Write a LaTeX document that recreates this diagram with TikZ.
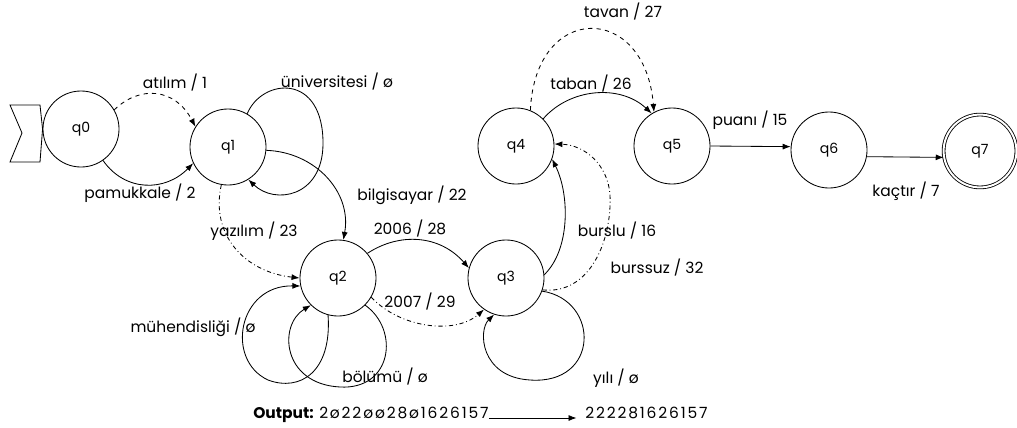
\documentclass[tikz,border=0pt]{standalone}
\usepackage{fontspec}
\setmainfont{Poppins}
\newfontfamily\outfont[LetterSpace=12]{Poppins}
\usetikzlibrary{arrows.meta}

\tikzset{
  qstate/.style={circle, draw=black, line width=0.6pt, minimum size=1.9cm, inner sep=0pt},
  qfinal/.style={qstate, double, double distance=1.4pt, minimum size=1.82cm},
  tr/.style={black, line width=0.6pt, -{Latex[length=2mm,width=1.5mm]}},
  lbl/.style={inner sep=0pt, font=\fontsize{11}{13}\selectfont}
}

\begin{document}
\begin{tikzpicture}[x=0.025cm, y=0.025cm]
    \useasboundingbox (0,0) rectangle (1017,-427);
    \tikzstyle{every node}+=[inner sep=0pt]
    \node [qstate] (q0) at (81,-129) {q0};
    \node [qstate] (q1) at (228,-147) {q1};
    \node [qstate] (q2) at (338,-278) {q2};
    \node [qstate] (q3) at (506,-278) {q3};
    \node [qstate] (q4) at (516,-146) {q4};
    \node [qstate] (q5) at (672,-146) {q5};
    \node [qstate] (q6) at (829,-150) {q6};
    \node [qfinal] (q7) at (980,-151) {q7};
    \draw [black, line width=0.6pt] (10,-105) -- (40,-105) -- (q0.west) -- (40,-162) -- (10,-162) -- (22,-133) -- cycle;
    \draw [tr, dashed] (q0.30) .. controls (140,-85) and (175,-88) .. (q1.148);
    \draw (175,-83) node [lbl] {atılım / 1};
    \draw [tr] (q0.-55) .. controls (125,-192) and (165,-192) .. (q1.205);
    \draw (140,-193) node [lbl] {pamukkale / 2};
    \draw [tr] (q1.60) .. controls (262,-78) and (324,-72) .. (323,-145) .. controls (322,-197) and (275,-205) .. (q1.-58);
    \draw (337,-82) node [lbl] {üniversitesi / ø};
    \draw [tr] (q1.-5) .. controls (315,-152) and (352,-192) .. (q2.82);
    \draw (412,-195) node [lbl] {bilgisayar / 22};
    \draw [tr, dash dot] (q1.-100) .. controls (210,-235) and (245,-272) .. (q2.180);
    \draw (254,-231) node [lbl] {yazılım / 23};
    \draw [tr] (q2.-105) .. controls (332,-372) and (300,-392) .. (268,-380) .. controls (225,-360) and (238,-285) .. (q2.192);
    \draw (193,-327) node [lbl] {mühendisliği / ø};
    \draw [tr] (q2.-45) .. controls (400,-330) and (392,-390) .. (340,-387) .. controls (282,-384) and (278,-325) .. (q2.225);
    \draw (385,-377) node [lbl] {bölümü / ø};
    \draw [tr] (q2.40) .. controls (400,-232) and (440,-235) .. (q3.165);
    \draw (410,-229) node [lbl] {2006 / 28};
    \draw [tr, dash dot] (q2.-30) .. controls (400,-328) and (455,-335) .. (q3.235);
    \draw (420,-302) node [lbl] {2007 / 29};
    \draw [tr] (q3.-20) .. controls (600,-300) and (600,-385) .. (530,-380) .. controls (480,-377) and (478,-330) .. (q3.252);
    \draw (616,-378) node [lbl] {yılı / ø};
    \draw [tr] (q3.5) .. controls (570,-250) and (570,-195) .. (q4.-20);
    \draw (617,-231) node [lbl] {burslu / 16};
    \draw [tr, dash dot] (q3.-18) .. controls (590,-295) and (612,-240) .. (610,-195) .. controls (608,-165) and (585,-145) .. (q4.3);
    \draw (657,-268) node [lbl] {burssuz / 32};
    \draw [tr] (q4.45) .. controls (570,-88) and (620,-84) .. (q5.122);
    \draw (591,-84) node [lbl] {taban / 26};
    \draw [tr, dashed] (q4.68) .. controls (535,-2) and (645,-2) .. (q5.118);
    \draw (623,-12) node [lbl] {tavan / 27};
    \draw [tr] (q5.east) -- (q6.175);
    \draw (750,-120) node [lbl] {puanı / 15};
    \draw [tr] (q6.-10) -- (q7.190);
    \draw (906,-191) node [lbl] {kaçtır / 7};
    \node [lbl, anchor=base west] (out1) at (253,-418) {\textbf{Output:} {\outfont 2ø22øø28ø1626157}};
    \node [lbl, anchor=base west] (out2) at (585,-418) {\outfont 222281626157};
    \draw [tr] (out1.base east) -- ([xshift=-6pt]out2.base west);
\end{tikzpicture}
\end{document}
